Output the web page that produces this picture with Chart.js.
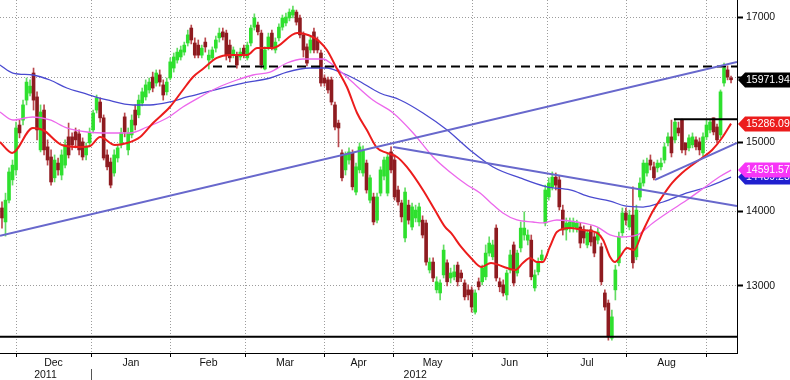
<!DOCTYPE html>
<html><head><meta charset="utf-8">
<script src="https://cdn.jsdelivr.net/npm/chart.js@4.4.1/dist/chart.umd.min.js"></script>
<style>html,body{margin:0;padding:0;background:#fff;}canvas{display:block;}</style>
</head><body>
<canvas id="c" width="790" height="380" style="width:790px;height:380px"></canvas>
<script>
// ---- daily OHLC (trading-day index 0..208) ----
const opens = [14050,13855,14160,14450,14595,15265,15340,15650,15760,16080,
15700,14890,15495,14935,14785,14480,14695,14520,14665,15085,
15085,15160,15130,15010,14815,14995,15190,15495,15620,15375,
14815,14710,14550,14770,14965,15390,14890,15115,15495,15420,
15605,15700,15810,16015,15920,16050,15890,15780,16000,16160,
16290,16340,16420,16570,16820,16570,16535,16370,16585,16290,
16325,16485,16655,16755,16735,16535,16370,16370,16340,16485,
16325,16570,16835,16870,16735,16145,16505,16735,16455,16655,
16835,16905,16990,17040,17090,16990,16705,16505,16455,16755,
16620,16405,16000,15970,15970,15575,15295,14845,14595,14740,
14845,14275,14595,14550,14695,14160,14205,13880,14260,14505,
14260,14860,14740,14305,14120,13635,14090,13785,13910,13855,
13880,13840,13205,13310,12945,12905,13140,13300,13100,13115,
13270,13165,13035,12945,12945,12660,13050,13050,13115,13430,
13380,13770,13050,13010,12880,13205,13540,13165,13500,13675,
13605,13605,12970,13180,13340,13840,14205,14350,14490,14450,
14020,13745,13770,13785,13770,13785,13745,13540,13745,13650,
13605,13515,12905,12775,12335,12945,13300,13705,13980,13785,
13950,13380,14205,14405,14550,14740,14640,14625,14640,14740,
14995,15085,15040,15220,15340,14995,14920,14965,15040,15010,
14845,15085,15190,15375,15235,15115,15920,16130,16000];
const highs = [14135,14260,14625,14740,15310,15340,15650,16000,15970,16160,
15780,15575,15575,15040,14890,14815,14770,14890,15040,15295,
15145,15220,15190,15070,14995,15220,15495,15730,15685,15420,
14890,14770,14890,14965,15220,15450,15220,15420,15575,15730,
15840,15970,16000,16095,16130,16130,15970,16000,16325,16405,
16485,16520,16585,16785,16870,16655,16620,16535,16655,16455,
16505,16685,16820,16820,16785,16620,16505,16420,16485,16535,
16585,16870,17060,16920,16785,16505,16735,16785,16655,16890,
17040,17075,17145,17195,17125,17040,16755,16555,16670,16820,
16670,16455,16050,16015,16015,15620,15340,14890,14860,14920,
14890,14695,14995,14950,14740,14520,14260,14260,14640,14785,
14845,14935,14815,14360,14160,14335,14160,14120,14090,14120,
13940,13880,13365,13365,13115,13075,13540,13340,13230,13270,
13310,13205,13075,13010,12985,12945,13100,13270,13540,13650,
13605,13815,13100,13075,13205,13470,13580,13470,13855,13995,
13745,13675,13205,13365,13470,14375,14480,14565,14550,14505,
14090,13910,13910,13910,13880,13840,13800,13745,13800,13705,
13770,13565,12945,12815,12685,13270,13715,14050,14050,14020,
14350,14090,14480,14740,14770,14815,14710,14740,14770,14995,
15145,15340,15355,15310,15355,14995,15115,15145,15085,15070,
15145,15340,15355,15375,15280,15810,16240,16195,16030];
const lows = [13770,13660,14120,14375,14520,15070,15265,15575,15715,15495,
15040,14860,14815,14665,14375,14420,14520,14450,14625,14770,
14890,14920,14815,14740,14740,14935,15145,15450,15310,14740,
14595,14335,14505,14710,14920,15085,14815,15070,15190,15375,
15560,15650,15760,15780,15870,15870,15650,15730,15970,16095,
16240,16290,16370,16520,16555,16325,16325,16325,16420,16145,
16290,16420,16585,16620,16290,16260,16325,16160,16290,16325,
16290,16520,16785,16705,16160,16130,16455,16455,16405,16605,
16785,16855,16940,16990,16870,16655,16340,16195,16405,16405,
16405,15870,15870,15760,15575,15190,14935,14435,14520,14680,
14305,14235,14550,14505,14260,14120,13815,13840,14220,14450,
14220,14550,14160,14090,13855,13580,13825,13745,13855,13800,
13635,13270,13165,13050,12905,12815,13100,12995,13035,13075,
12995,13050,12815,12815,12660,12635,12945,13010,13075,13390,
13340,13060,12920,12865,12815,13165,12995,13125,13445,13605,
13540,13075,12930,13140,13300,13800,14160,14305,14305,14020,
13675,13605,13715,13715,13715,13500,13565,13500,13525,13380,
13555,13010,12685,12310,12310,12815,13260,13660,13815,13745,
13230,13340,14160,14360,14505,14595,14450,14565,14595,14695,
14950,14785,14995,15100,14845,14815,14875,14920,14890,14815,
14800,15040,15145,15115,14995,15070,15870,15970,15920];
const closes = [13910,14160,14565,14665,15220,15145,15575,15935,15870,15650,
15190,15465,14890,14740,14420,14740,14595,14815,14965,14815,
14965,15040,14890,14785,14935,15145,15450,15685,15375,14770,
14640,14375,14815,14920,15145,15160,15145,15340,15265,15650,
15780,15890,15935,15840,16080,15935,15730,15935,16260,16340,
16420,16455,16535,16705,16620,16370,16370,16485,16505,16370,
16455,16620,16735,16670,16370,16325,16455,16210,16420,16370,
16535,16820,16990,16755,16210,16455,16670,16505,16585,16835,
16990,17005,17090,17125,16920,16705,16455,16240,16620,16455,
16455,15920,15920,15810,15620,15235,15220,14480,14815,14860,
14350,14640,14935,14890,14305,14480,13855,14205,14595,14740,
14785,14595,14205,14135,13925,14275,13880,14065,14020,14065,
13675,13310,13310,13100,13050,13035,13470,13050,13165,13180,
13050,13100,12855,12880,12725,12905,12985,13230,13430,13565,
13540,13100,12985,12905,13165,13405,13035,13430,13770,13770,
13675,13115,13140,13310,13405,14305,14405,14490,14375,14065,
13745,13840,13855,13855,13840,13565,13635,13705,13580,13430,
13715,13050,12725,12350,12600,13205,13650,13980,13880,13950,
13300,14020,14405,14695,14695,14665,14480,14695,14695,14935,
15085,14845,15310,15145,14890,14890,15070,15085,14935,14890,
15085,15265,15310,15160,15040,15780,16160,16015,15971.94];

// ---- moving averages (day index, value) ----
const maRedX = [-0.6,2.9,8.8,11.7,17.1,22.3,25.1,28.0,32.2,35.7,39.4,43.1,47.9,51.6,54.5,57.3,61.3,65.0,69.9,72.8,77.3,84.2,88.7,90.7,92.7,95.6,98.4,101.3,104.1,107.0,109.8,112.7,115.5,120.1,123.5,126.4,128.1,131.0,133.8,136.7,139.5,144.1,146.4,148.6,150.6,152.6,154.3,156.3,158.3,162.0,165.8,169.8,171.5,173.5,174.9,176.3,178.3,180.3,182.6,185.4,188.3,191.2,194.0,196.9,199.7,202.6,205.4,208];
const maRedY = [15008,14845,15220,15189,14963,14933,14948,15083,14963,14993,15083,15296,15543,15809,16016,16145,16324,16372,16372,16487,16487,16737,16670,16587,16454,16145,15857,15450,15189,14919,14845,14785,14638,14305,14021,13786,13703,13513,13365,13244,13298,13231,13205,13298,13365,13311,13311,13513,13717,13772,13744,13703,13607,13378,13311,13378,13499,13472,13703,13980,14205,14406,14550,14667,14770,14889,15068,15286.09];
const maMagX = [-0.6,3.1,8.8,13.7,18.5,24.3,30.8,36.5,41.4,47.1,51.6,56.5,61.3,67.0,71.6,76.5,81.3,85.9,91.6,94.4,99.3,105.8,111.6,117.3,123.0,127.8,132.7,136.4,139.2,142.9,146.9,151.5,154.3,158.3,164.1,169.8,173.5,176.3,181.2,185.7,190.6,195.4,200.6,204.6,208];
const maMagY = [15465,15342,15388,15342,15220,15159,15144,15144,15235,15373,15543,15699,15841,15968,16048,16096,16242,16307,16307,16210,15968,15652,15450,15144,14785,14565,14377,14262,14134,13980,13882,13854,13841,13882,13854,13786,13676,13648,13676,13841,14007,14162,14348,14492,14591.57];
const maBlueX = [-0.6,3.1,8.8,13.7,18.5,23.1,30.0,37.4,42.2,47.9,52.8,57.3,64.2,68.8,76.5,81.3,87.9,92.7,96.4,101.3,107.8,113.6,120.1,127.0,133.5,140.1,147.8,155.5,162.1,167.8,173.5,177.7,182.9,188.6,195.4,202.0,208];
const maBlueY = [16210,16080,16048,15968,15841,15762,15652,15574,15574,15621,15699,15762,15857,15920,16000,16096,16161,16161,16096,15968,15762,15652,15450,15189,14889,14638,14478,14348,14305,14205,14148,14078,14063,14134,14262,14362,14489.23];

// ---- drawn trend / level lines (day index, value) ----
const trendUpX = [-0.57, 209.7],  trendUpY = [13664, 16258];
const trendDownX = [111.6, 209.7], trendDownY = [14933, 14078];
const trendShortX = [186.3, 209.7], trendShortY = [14450, 14993];
const resistX = [191.7, 209.7], resistY = [15352, 15352];
const dashX = [60.2, 209.7], dashY = [16185, 16185];
const supportX = [-0.57, 209.7], supportY = [12351, 12351];

// ---- axes ----
const monthStarts = [4, 25.4, 48.2, 69.6, 91.9, 111.6, 134.1, 155.5, 178.3, 200.9];
const monthNames = ['Dec','Jan','Feb','Mar','Apr','May','Jun','Jul','Aug'];
const yearNames = ['2011','2012'];
const yearCenters = [12.4, 117.9];
const yearBreak = 25.4;
const yTicks = [13000,14000,15000,16000,17000];
const X_MIN = -0.57, X_MAX = 209.7, Y_MIN = 12153, Y_MAX = 17298;

// ---- styles ----
const FONT = "'Liberation Sans', Arial, sans-serif";
const UP_BODY = '#2ee02e', UP_WICK = '#63dc63', DN_BODY = '#8e1b20', DN_WICK = '#b9484d';
const GRID = '#9c9c9c';

Chart.defaults.font.family = FONT;
Chart.defaults.font.size = 10.5;
Chart.defaults.color = '#000';

const idx = opens.map((_, i) => i);
const isUp = i => closes[i] >= opens[i];
const pts = (xs, ys) => xs.map((x, i) => ({x: x, y: ys[i]}));
const line = (xs, ys, color, width, order, extra) => Object.assign({
  type: 'line', data: pts(xs, ys), borderColor: color, borderWidth: width,
  pointRadius: 0, fill: false, tension: 0, clip: 0, order: order
}, extra || {});

const last = a => a[a.length - 1];
const boxSpecs = [
  {value: last(maBlueY), color: '#1f1fcf'},
  {value: last(maMagY), color: '#f735f7'},
  {value: last(maRedY), color: '#ec1c1c'},
  {value: last(closes), color: '#000000'}
];

const boxPlugin = {
  id: 'valueBoxes',
  afterDraw(chart) {
    const ctx = chart.ctx, ys = chart.scales.y, x0 = chart.chartArea.right, W = chart.width;
    ctx.save();
    ctx.font = "10.5px " + FONT;
    ctx.textBaseline = 'middle';
    ctx.textAlign = 'left';
    boxSpecs.forEach(b => {
      const yc = Math.round(ys.getPixelForValue(b.value));
      const h = 7.5;
      ctx.fillStyle = b.color;
      ctx.beginPath();
      ctx.moveTo(x0 + 1, yc);
      ctx.lineTo(x0 + 8, yc - h);
      ctx.lineTo(W, yc - h);
      ctx.lineTo(W, yc + h);
      ctx.lineTo(x0 + 8, yc + h);
      ctx.closePath();
      ctx.fill();
      ctx.fillStyle = '#fff';
      ctx.fillText(b.value.toFixed(2), x0 + 9, yc + 0.5);
    });
    ctx.restore();
  }
};

const noPadH = s => { s.paddingLeft = 0; s.paddingRight = 0; };

new Chart(document.getElementById('c'), {
  type: 'bar',
  data: {
    datasets: [
      line(trendUpX, trendUpY, '#6868cc', 2, 0),
      line(trendDownX, trendDownY, '#6868cc', 2, 0),
      line(trendShortX, trendShortY, '#6868cc', 2, 0),
      line(resistX, resistY, '#000', 2, 0),
      line(dashX, dashY, '#000', 2, 0, {borderDash: [9, 5]}),
      line(supportX, supportY, '#000', 2, 0),
      line(maRedX, maRedY, '#ec1c1c', 2, 1, {tension: 0.4, cubicInterpolationMode: 'monotone'}),
      line(maMagX, maMagY, '#ec68ec', 1.3, 2, {tension: 0.4, cubicInterpolationMode: 'monotone'}),
      line(maBlueX, maBlueY, '#4a4ad0', 1.3, 2, {tension: 0.4, cubicInterpolationMode: 'monotone'}),
      {
        type: 'bar', data: idx.map(i => ({x: i, y: [opens[i], closes[i]]})),
        backgroundColor: idx.map(i => isUp(i) ? UP_BODY : DN_BODY),
        barThickness: 3, grouped: false, minBarLength: 1, borderWidth: 0, order: 4
      },
      {
        type: 'bar', data: idx.map(i => ({x: i, y: [lows[i], highs[i]]})),
        backgroundColor: idx.map(i => isUp(i) ? UP_WICK : DN_WICK),
        barThickness: 1, grouped: false, borderWidth: 0, order: 5
      }
    ]
  },
  options: {
    responsive: false, maintainAspectRatio: false, animation: false, events: [],
    devicePixelRatio: 1,
    layout: {padding: 0},
    plugins: {legend: {display: false}, tooltip: {enabled: false}},
    scales: {
      x: {
        type: 'linear', position: 'bottom', min: X_MIN, max: X_MAX, offset: false,
        afterBuildTicks: s => { s.ticks = monthStarts.map(v => ({value: v})); },
        ticks: {display: false},
        grid: {offset: false, color: GRID, lineWidth: 1, drawTicks: true, tickLength: 4, tickColor: '#000', tickWidth: 1, tickBorderDash: []},
        border: {display: true, color: '#000', width: 1, dash: [1, 2]},
        afterFit: s => { s.height = 4; noPadH(s); }
      },
      xm: {
        type: 'linear', position: 'bottom', min: X_MIN, max: X_MAX, offset: false,
        afterBuildTicks: s => { s.ticks = monthNames.map((n, i) => ({value: (monthStarts[i] + monthStarts[i + 1]) / 2})); },
        ticks: {autoSkip: false, maxRotation: 0, padding: 0, color: '#111', font: {size: 10.5},
          callback: (v, i) => monthNames[i]},
        grid: {display: false, drawTicks: false, offset: false},
        border: {display: false},
        afterFit: s => { s.height = 12; noPadH(s); }
      },
      xy: {
        type: 'linear', position: 'bottom', min: X_MIN, max: X_MAX, offset: false,
        afterBuildTicks: s => { s.ticks = [{value: yearCenters[0]}, {value: yearBreak}, {value: yearCenters[1]}]; },
        ticks: {autoSkip: false, maxRotation: 0, padding: -12, color: '#111', font: {size: 10.5},
          callback: v => (v === yearCenters[0] ? yearNames[0] : (v === yearCenters[1] ? yearNames[1] : ''))},
        grid: {display: true, offset: false, drawOnChartArea: false, drawTicks: true, tickLength: 12, tickWidth: 1,
          tickBorderDash: [],
          color: c => (c.tick && c.tick.value === yearBreak) ? '#555' : 'rgba(0,0,0,0)',
          tickColor: c => (c.tick && c.tick.value === yearBreak) ? '#555' : 'rgba(0,0,0,0)'},
        border: {display: false},
        afterFit: s => { s.height = 11; noPadH(s); }
      },
      y: {
        type: 'logarithmic', position: 'right', min: Y_MIN, max: Y_MAX,
        afterBuildTicks: s => { s.ticks = yTicks.map(v => ({value: v})); },
        ticks: {autoSkip: false, padding: 3, color: '#111', font: {size: 10.5},
          callback: v => (v === 16000 ? '' : String(v))},
        grid: {color: GRID, lineWidth: 1, drawTicks: true, tickLength: 6, tickColor: '#000', tickWidth: 2, tickBorderDash: []},
        border: {display: true, color: '#000', width: 1, dash: [1, 2]},
        afterFit: s => { s.width = 53; s.paddingTop = 0; s.paddingBottom = 0; }
      }
    }
  },
  plugins: [boxPlugin]
});
</script>
</body></html>
